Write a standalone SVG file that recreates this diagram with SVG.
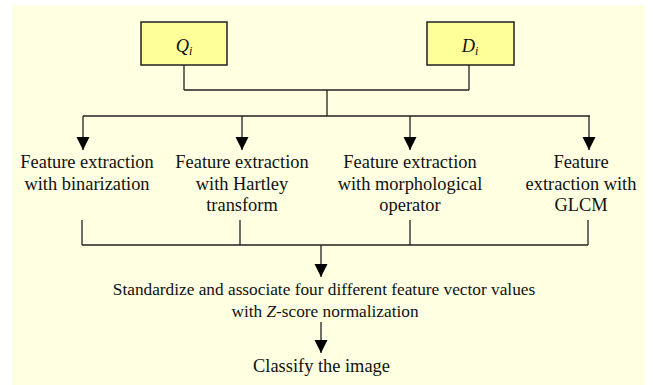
<svg xmlns="http://www.w3.org/2000/svg" width="653" height="385" viewBox="0 0 653 385">
  <defs>
    <marker id="ah" markerWidth="14" markerHeight="14" refX="13" refY="6.5" orient="auto" markerUnits="userSpaceOnUse" viewBox="0 0 14 14">
      <path d="M0,0 L13,6.5 L0,13 Z" fill="#000"/>
    </marker>
  </defs>
  <style>
    .bg { fill: #FFFFE1; }
    .box { fill: #FFFF99; stroke: #222; stroke-width: 1.5; }
    .ln { fill: none; stroke: #222; stroke-width: 1.3; }
    .t { font-size: 18.4px; fill: #111; text-anchor: middle; }
    .ts { font-size: 17.3px; }
    .it { font-style: italic; }
  </style>
  <rect class="bg" x="12" y="5" width="633" height="380"/>

  <g font-family="'Liberation Serif', 'Times New Roman', serif">
  <g id="node-Q">
    <rect class="box" x="141" y="22" width="86" height="43"/>
    <text class="t it" x="184" y="52">Q<tspan font-size="12" dy="3">i</tspan></text>
  </g>
  <g id="node-D">
    <rect class="box" x="427" y="22" width="87" height="43"/>
    <text class="t it" x="470" y="52">D<tspan font-size="12" dy="3">i</tspan></text>
  </g>

  <g id="node-f1">
    <text class="t" x="87" y="168">Feature extraction</text>
    <text class="t" x="87" y="189.5">with binarization</text>
  </g>
  <g id="node-f2">
    <text class="t" x="242" y="168">Feature extraction</text>
    <text class="t" x="242" y="189.5">with Hartley</text>
    <text class="t" x="242" y="211">transform</text>
  </g>
  <g id="node-f3">
    <text class="t" x="410" y="168">Feature extraction</text>
    <text class="t" x="410" y="189.5">with morphological</text>
    <text class="t" x="410" y="211">operator</text>
  </g>
  <g id="node-f4">
    <text class="t" x="581" y="168">Feature</text>
    <text class="t" x="581" y="189.5">extraction with</text>
    <text class="t" x="581" y="211">GLCM</text>
  </g>

  <g id="node-std">
    <text class="t ts" x="324" y="295">Standardize and associate four different feature vector values</text>
    <text class="t ts" x="325" y="317">with <tspan class="it">Z</tspan>-score normalization</text>
  </g>
  <g id="node-cls">
    <text class="t" x="321.5" y="372">Classify the image</text>
  </g>
  </g>

  <g id="connectors">
    <path class="ln" d="M184,65 V90 M469,65 V90 M184,90 H469 M327,90 V116 M83,116 H590"/>
    <path class="ln" d="M83,116 V150" marker-end="url(#ah)"/>
    <path class="ln" d="M242,116 V150" marker-end="url(#ah)"/>
    <path class="ln" d="M410,116 V150" marker-end="url(#ah)"/>
    <path class="ln" d="M589,116 V150" marker-end="url(#ah)"/>
    <path class="ln" d="M82,220 V245 M240,220 V245 M410,220 V245 M588,220 V245 M82,245 H588"/>
    <path class="ln" d="M321,245 V277" marker-end="url(#ah)"/>
    <path class="ln" d="M321,322 V353" marker-end="url(#ah)"/>
  </g>
</svg>
